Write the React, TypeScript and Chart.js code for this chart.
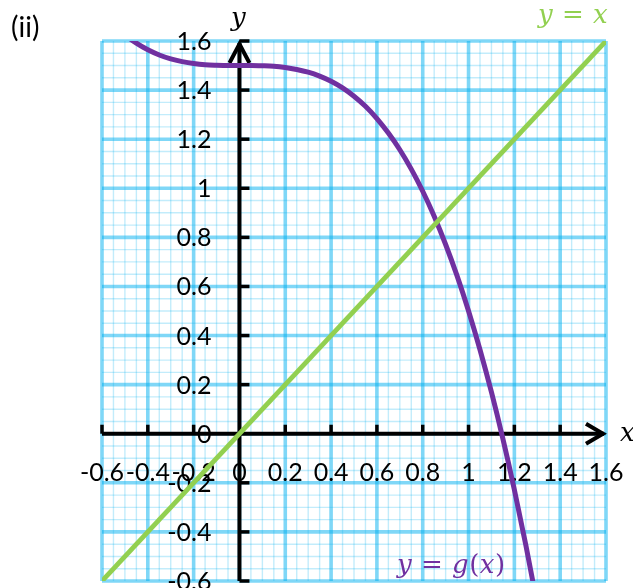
import { useEffect, useRef } from "react";
import { Chart, registerables } from "chart.js";

Chart.register(...registerables);

// Axis ranges and grid spacing
const X_MIN = -0.6;
const X_MAX = 1.6;
const Y_MIN = -0.6;
const Y_MAX = 1.6;
const MINOR_STEP = 0.05;

// Tick positions and their printed labels
const xTicks = [-0.6, -0.4, -0.2, 0, 0.2, 0.4, 0.6, 0.8, 1, 1.2, 1.4, 1.6];
const xTickLabels = ["-0.6", "-0.4", "-0.2", "0", "0.2", "0.4", "0.6", "0.8", "1", "1.2", "1.4", "1.6"];
const yTicks = [-0.6, -0.4, -0.2, 0, 0.2, 0.4, 0.6, 0.8, 1, 1.2, 1.4, 1.6];
const yTickLabels = ["-0.6", "-0.4", "-0.2", "0", "0.2", "0.4", "0.6", "0.8", "1", "1.2", "1.4", "1.6"];

// Curve y = g(x)
const gX = [
  -0.55, -0.5, -0.45, -0.4, -0.35, -0.3, -0.25, -0.2, -0.15, -0.1, -0.05, 0,
  0.05, 0.1, 0.15, 0.2, 0.25, 0.3, 0.35, 0.4, 0.45, 0.5, 0.55, 0.6, 0.65, 0.7,
  0.75, 0.8, 0.85, 0.9, 0.95, 1.0, 1.05, 1.1, 1.15, 1.2, 1.25, 1.3,
];
const gY = [
  1.666, 1.625, 1.591, 1.564, 1.543, 1.527, 1.516, 1.508, 1.503, 1.501, 1.5, 1.5,
  1.5, 1.499, 1.497, 1.492, 1.484, 1.473, 1.457, 1.436, 1.409, 1.375, 1.334, 1.284, 1.225, 1.157,
  1.078, 0.988, 0.886, 0.771, 0.643, 0.5, 0.342, 0.169, -0.021, -0.228, -0.453, -0.697,
];

// Line y = x
const identityX = [-0.6, 1.6];
const identityY = [-0.6, 1.6];

const GREEN = "#92d050";
const PURPLE = "#7030a0";

type Run = { t: string; it: boolean; gap?: number };

// Draws a formula as a row of italic / upright pieces
function drawRuns(ctx: CanvasRenderingContext2D, runs: Run[], x: number, baseline: number, color: string, size: number) {
  ctx.fillStyle = color;
  ctx.textAlign = "left";
  ctx.textBaseline = "alphabetic";
  let cx = x;
  for (const r of runs) {
    ctx.font = `${r.it ? "italic " : ""}${size}px 'DejaVu Serif'`;
    cx += r.gap ?? 0;
    ctx.fillText(r.t, cx, baseline);
    cx += ctx.measureText(r.t).width + (r.gap ?? 0);
  }
}

const paperPlugin = {
  id: "paperGrid",
  beforeDraw(chart: any) {
    const { ctx, width, height } = chart;
    ctx.save();
    ctx.fillStyle = "#ffffff";
    ctx.fillRect(0, 0, width, height);
    ctx.restore();
  },
  beforeDatasetsDraw(chart: any) {
    const { ctx, chartArea: a } = chart;
    const xs = chart.scales.x;
    const ys = chart.scales.y;
    ctx.save();
    ctx.lineCap = "butt";

    // fine grid
    ctx.strokeStyle = "rgba(0,176,240,0.24)";
    ctx.lineWidth = 1.4;
    const nx = Math.round((X_MAX - X_MIN) / MINOR_STEP);
    for (let i = 0; i <= nx; i++) {
      if (i % 4 === 0) continue;
      const px = xs.getPixelForValue(X_MIN + i * MINOR_STEP);
      ctx.beginPath();
      ctx.moveTo(px, a.top);
      ctx.lineTo(px, a.bottom);
      ctx.stroke();
    }
    const ny = Math.round((Y_MAX - Y_MIN) / MINOR_STEP);
    for (let i = 0; i <= ny; i++) {
      if (i % 4 === 0) continue;
      const py = ys.getPixelForValue(Y_MIN + i * MINOR_STEP);
      ctx.beginPath();
      ctx.moveTo(a.left, py);
      ctx.lineTo(a.right, py);
      ctx.stroke();
    }

    // main grid
    ctx.strokeStyle = "rgba(0,176,240,0.5)";
    ctx.lineWidth = 3.6;
    for (const v of xTicks) {
      const px = xs.getPixelForValue(v);
      ctx.beginPath();
      ctx.moveTo(px, a.top);
      ctx.lineTo(px, a.bottom);
      ctx.stroke();
    }
    for (const v of yTicks) {
      const py = ys.getPixelForValue(v);
      ctx.beginPath();
      ctx.moveTo(a.left, py);
      ctx.lineTo(a.right, py);
      ctx.stroke();
    }

    // axes
    const x0 = xs.getPixelForValue(0);
    const y0 = ys.getPixelForValue(0);
    ctx.strokeStyle = "#000000";
    ctx.lineWidth = 4;
    ctx.beginPath();
    ctx.moveTo(a.left, y0);
    ctx.lineTo(a.right - 2, y0);
    ctx.stroke();
    ctx.beginPath();
    ctx.moveTo(x0, a.bottom);
    ctx.lineTo(x0, a.top + 2);
    ctx.stroke();

    ctx.lineJoin = "miter";
    ctx.beginPath();
    ctx.moveTo(a.right - 20, y0 - 10);
    ctx.lineTo(a.right - 3, y0);
    ctx.lineTo(a.right - 20, y0 + 10);
    ctx.stroke();
    ctx.beginPath();
    ctx.moveTo(x0 - 10, a.top + 22);
    ctx.lineTo(x0, a.top + 3);
    ctx.lineTo(x0 + 10, a.top + 22);
    ctx.stroke();

    // tick marks
    ctx.lineWidth = 3.5;
    for (const v of xTicks) {
      if (v === 0 || v === X_MAX) continue;
      const px = xs.getPixelForValue(v);
      ctx.beginPath();
      ctx.moveTo(px, y0);
      ctx.lineTo(px, y0 - 9);
      ctx.stroke();
    }
    for (const v of yTicks) {
      if (v === 0) continue;
      const py = ys.getPixelForValue(v);
      ctx.beginPath();
      ctx.moveTo(x0, py);
      ctx.lineTo(x0 + 10, py);
      ctx.stroke();
    }

    // tick labels
    ctx.fillStyle = "#000000";
    ctx.font = "25px Lato";
    ctx.textBaseline = "alphabetic";
    ctx.textAlign = "center";
    xTicks.forEach((v, i) => {
      ctx.fillText(xTickLabels[i], xs.getPixelForValue(v), y0 + 47);
    });
    ctx.textAlign = "right";
    yTicks.forEach((v, i) => {
      ctx.fillText(yTickLabels[i], x0 - 28, ys.getPixelForValue(v) + 9);
    });
    ctx.restore();
  },
  afterDatasetsDraw(chart: any) {
    const { ctx, chartArea: a } = chart;
    const x0 = chart.scales.x.getPixelForValue(0);
    const y0 = chart.scales.y.getPixelForValue(0);
    ctx.save();
    ctx.fillStyle = "#000000";
    ctx.font = "28px Lato";
    ctx.textAlign = "left";
    ctx.textBaseline = "alphabetic";
    ctx.fillText("(ii)", 11, 37);

    ctx.font = "italic 26px 'DejaVu Serif'";
    ctx.textAlign = "center";
    ctx.fillText("y", x0 - 1, 26);
    ctx.textAlign = "left";
    ctx.fillText("x", a.right + 14, y0 + 7);

    drawRuns(
      ctx,
      [{ t: "y", it: true }, { t: " = ", it: false, gap: 1 }, { t: "x", it: true }],
      538,
      23,
      GREEN,
      26,
    );
    drawRuns(
      ctx,
      [
        { t: "y", it: true },
        { t: " = ", it: false, gap: 1 },
        { t: "g", it: true },
        { t: "(", it: false, gap: 0.5 },
        { t: "x", it: true },
        { t: ")", it: false, gap: 0.5 },
      ],
      397,
      573,
      PURPLE,
      26,
    );
    ctx.restore();
  },
};

export default function App() {
  const canvasRef = useRef<HTMLCanvasElement | null>(null);

  useEffect(() => {
    const canvas = canvasRef.current;
    if (!canvas) return;
    const chart = new Chart(canvas, {
      type: "scatter",
      data: {
        datasets: [
          {
            label: "y = x",
            data: identityX.map((x, i) => ({ x, y: identityY[i] })),
            showLine: true,
            borderColor: GREEN,
            borderWidth: 4.8,
            pointRadius: 0,
            clip: 0,
          },
          {
            label: "y = g(x)",
            data: gX.map((x, i) => ({ x, y: gY[i] })),
            showLine: true,
            borderColor: PURPLE,
            borderWidth: 5,
            pointRadius: 0,
            cubicInterpolationMode: "monotone",
            clip: 0,
          },
        ],
      },
      options: {
        animation: false,
        responsive: false,
        maintainAspectRatio: false,
        devicePixelRatio: 1,
        layout: { padding: { left: 102, right: 27, top: 41, bottom: 7 } },
        plugins: { legend: { display: false }, tooltip: { enabled: false } },
        events: [],
        scales: {
          x: { type: "linear", min: X_MIN, max: X_MAX, display: false },
          y: { type: "linear", min: Y_MIN, max: Y_MAX, display: false },
        },
      } as any,
      plugins: [paperPlugin],
    });
    return () => chart.destroy();
  }, []);

  return (
    <div style={{ position: "absolute", left: 0, top: 0, width: 633, height: 588 }}>
      <canvas ref={canvasRef} width={633} height={588} />
    </div>
  );
}
